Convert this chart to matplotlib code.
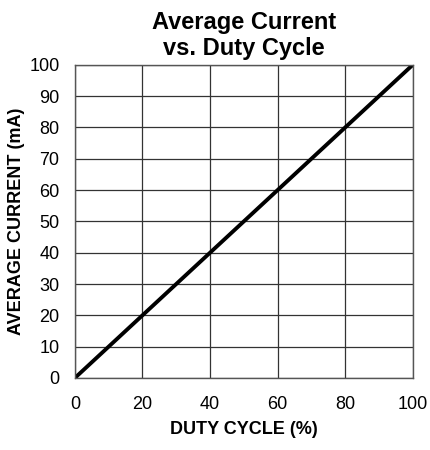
import matplotlib
matplotlib.use("Agg")
import matplotlib.pyplot as plt

# Average current rises linearly with duty cycle
duty_cycle = [0, 10, 20, 30, 40, 50, 60, 70, 80, 90, 100]
avg_current = [0, 10, 20, 30, 40, 50, 60, 70, 80, 90, 100]

x_ticks = [0, 20, 40, 60, 80, 100]
y_ticks = [0, 10, 20, 30, 40, 50, 60, 70, 80, 90, 100]

plt.rcParams["font.family"] = ["Liberation Sans", "DejaVu Sans"]

fig = plt.figure(figsize=(4.3, 4.5), dpi=100)
ax = fig.add_axes([0.174, 0.16, 0.786, 0.696])

ax.plot(duty_cycle, avg_current, color="black", linewidth=2.8, solid_capstyle="butt")

ax.set_xlim(0, 100)
ax.set_ylim(0, 100)
ax.set_xticks(x_ticks)
ax.set_yticks(y_ticks)
ax.tick_params(length=0, labelsize=13)
ax.tick_params(axis="x", pad=13)
ax.tick_params(axis="y", pad=11)
ax.grid(True, color="#333333", linewidth=0.9)
ax.set_axisbelow(True)
for s in ax.spines.values():
    s.set_color("#555555")
    s.set_linewidth(1.0)

ax.set_title("Average Current\nvs. Duty Cycle", fontsize=17, fontweight="bold",
             linespacing=1.15, pad=7)
ax.set_xlabel("DUTY CYCLE (%)", fontsize=13, fontweight="bold", labelpad=6)
ax.set_ylabel("AVERAGE CURRENT (mA)", fontsize=13, fontweight="bold", labelpad=3)

fig.savefig("out.png", dpi=100)
